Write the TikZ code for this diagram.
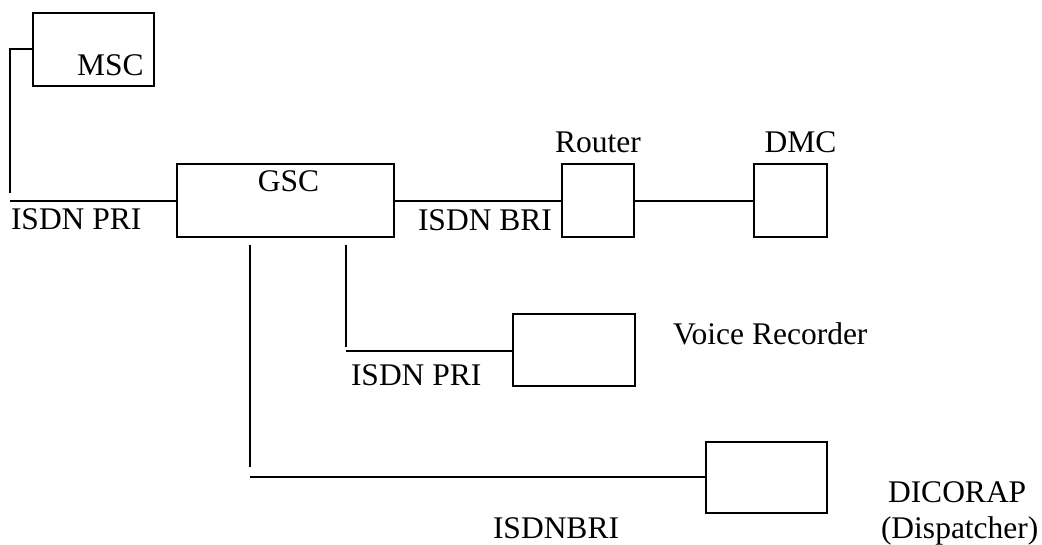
\documentclass[tikz,border=0pt]{standalone}
\usepackage{fontspec}
\setmainfont{Liberation Serif}
\usepackage{tikz}
\usetikzlibrary{positioning}

\begin{document}
\begin{tikzpicture}[
    x=1pt, y=-1pt, line width=2pt,
    unit/.style={draw, rectangle, inner sep=0pt},
    tag/.style={font=\fontsize{31.5}{36}\selectfont, inner sep=0pt, anchor=base west}
]
    \useasboundingbox (0,0) rectangle (1042,545);

    % Boxes
    \node[unit, minimum width=121pt, minimum height=73pt] (msc) at (93.5, 49.5) {};
    \node[unit, minimum width=217pt, minimum height=73pt] (gsc) at (285.5, 201) {};
    \node[unit, minimum width=72pt, minimum height=73pt] (router) at (598, 201) {};
    \node[unit, minimum width=73pt, minimum height=73pt] (dmc) at (790.5, 201) {};
    \node[unit, minimum width=122pt, minimum height=72pt] (recorder) at (574, 350) {};
    \node[unit, minimum width=121pt, minimum height=71pt] (dicorap) at (766.5, 477) {};

    % Free ends of the lines
    \coordinate (mscend) at (10, 193);
    \coordinate (pristart) at (10, 201);
    \coordinate (recdrop) at (346, 245);
    \coordinate (recend) at (346, 347);
    \coordinate (recstart) at (346, 351);
    \coordinate (disdrop) at (250, 245);
    \coordinate (disend) at (250, 467);
    \coordinate (disstart) at (250, 477);

    % Labels
    \node[tag, anchor=base] (msclabel) at (110.5, 76) {MSC};
    \node[tag, anchor=base] (gsclabel) at (288.5, 192) {GSC};
    \node[tag, anchor=south, above=10pt of router] (routerlabel) {Router};
    \node[tag, anchor=south, above=10pt of dmc, xshift=10pt] (dmclabel) {DMC};
    \node[tag] (pri1) at (10, 230) {ISDN PRI};
    \node[tag] (bri1) at (417, 231) {ISDN BRI};
    \node[tag] (pri2) at (350, 385) {ISDN PRI};
    \node[tag] (reclabel) at (672, 345) {Voice Recorder};
    \node[tag] (bri2) at (492, 538) {ISDNBRI};
    \node[tag] (dislabel) at (887, 502) {DICORAP};
    \node[tag] (disnote) at (880, 538) {(Dispatcher)};

    % Connections
    \draw (msc.west) -| (mscend);
    \draw (pristart) -- (pristart -| gsc.west);
    \draw (gsc.east) -- (router.west);
    \draw (router.east) -- (dmc.west);
    \draw (recdrop) -- (recend);
    \draw (recstart) -- (recstart -| recorder.west);
    \draw (disdrop) -- (disend);
    \draw (disstart) -- (disstart -| dicorap.west);
\end{tikzpicture}
\end{document}
